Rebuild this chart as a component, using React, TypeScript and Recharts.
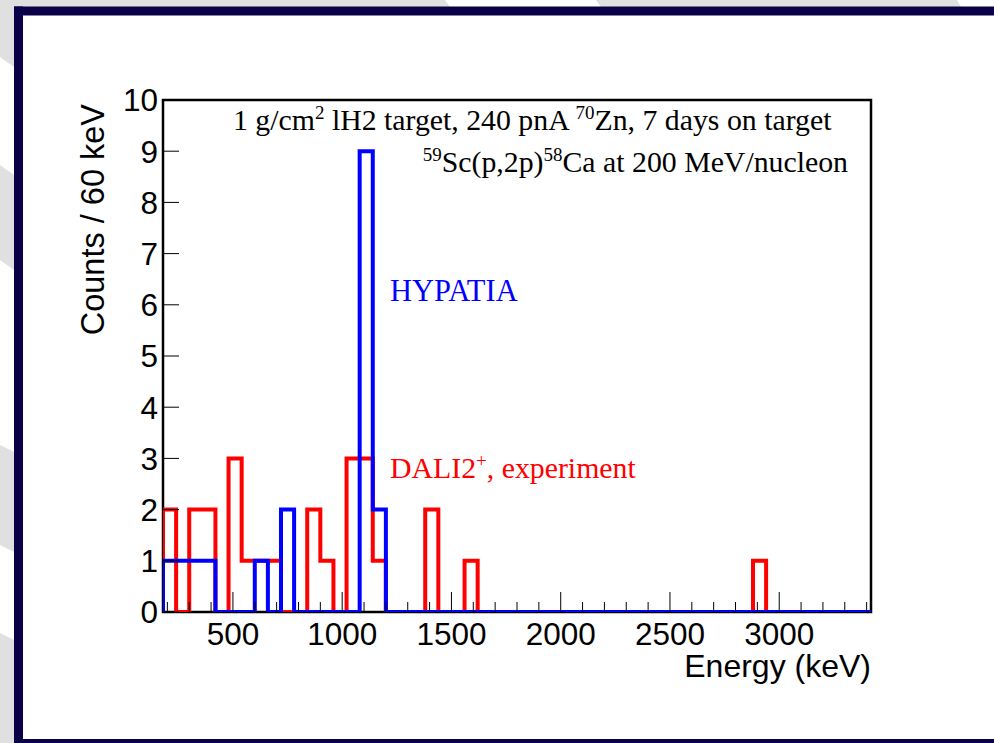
import React from "react";
import { LineChart, Line, XAxis, YAxis, ReferenceArea } from "recharts";

// 60 keV bins from 180 keV up to 3420 keV (54 bins)
const binStart = 180;
const binWidth = 60;

// counts per bin
const daliCounts = [
  2, 0, 2, 2, 0, 3, 1, 1, 1, 0, 0, 2, 1, 0, 3, 3, 1, 0, 0, 0, 2, 0, 0, 1, 0, 0, 0,
  0, 0, 0, 0, 0, 0, 0, 0, 0, 0, 0, 0, 0, 0, 0, 0, 0, 0, 1, 0, 0, 0, 0, 0, 0, 0, 0,
];
const hypatiaCounts = [
  1, 1, 1, 1, 0, 0, 0, 1, 0, 2, 0, 0, 0, 0, 0, 9, 2, 0, 0, 0, 0, 0, 0, 0, 0, 0, 0,
  0, 0, 0, 0, 0, 0, 0, 0, 0, 0, 0, 0, 0, 0, 0, 0, 0, 0, 0, 0, 0, 0, 0, 0, 0, 0, 0,
];

const xTicks = [
  200, 300, 400, 500, 600, 700, 800, 900, 1000, 1100, 1200, 1300, 1400, 1500, 1600, 1700, 1800,
  1900, 2000, 2100, 2200, 2300, 2400, 2500, 2600, 2700, 2800, 2900, 3000, 3100, 3200, 3300, 3400,
];
const yTicks = [0, 1, 2, 3, 4, 5, 6, 7, 8, 9, 10];

const nBins = daliCounts.length;
const binEnd = binStart + nBins * binWidth;

// step outline: start at zero on the left edge, one point per bin low edge, close at the right edge
const histData = [
  { e: binStart, dali: 0, hypatia: 0 },
  ...daliCounts.map((c, i) => ({ e: binStart + i * binWidth, dali: c, hypatia: hypatiaCounts[i] })),
  { e: binEnd, dali: daliCounts[nBins - 1], hypatia: hypatiaCounts[nBins - 1] },
  { e: binEnd, dali: 0, hypatia: 0 },
];

const SANS = "'Liberation Sans', Arial, Helvetica, sans-serif";
const SERIF = "'Liberation Serif', 'Times New Roman', serif";
const GREY = "#e0e0e0";
const NAVY = "#0a0048";

const XTick = (props: any) => {
  const { x, y, payload } = props;
  const major = payload.value % 500 === 0;
  return (
    <g>
      <line x1={x} x2={x} y1={y} y2={y - (major ? 20 : 10)} stroke="#000" strokeWidth={1} />
      {major && (
        <text x={x} y={y + 33} textAnchor="middle" fontFamily={SANS} fontSize={31.5} fill="#000">
          {payload.value}
        </text>
      )}
    </g>
  );
};

const YTick = (props: any) => {
  const { x, y, payload } = props;
  return (
    <g>
      <line x1={x} x2={x + 16} y1={y} y2={y} stroke="#000" strokeWidth={1} />
      <text x={x - 5} y={y} dy="0.36em" textAnchor="end" fontFamily={SANS} fontSize={31.5} fill="#000">
        {payload.value}
      </text>
    </g>
  );
};

// slide background behind the canvas: grey diagonal stripes + navy frame
const Backdrop = () => (
  <svg width={994} height={743} style={{ position: "absolute", left: 0, top: 0 }}>
    <rect x={0} y={0} width={994} height={743} fill="#fff" />
    <polygon points="0,0 445,0 450,7 0,7" fill={GREY} />
    <polygon points="596,0 957,0 961,7 601,7" fill={GREY} />
    <polygon points="0,0 14,0 14,67 0,57" fill={GREY} />
    <polygon points="0,165 14,175 14,270 0,260" fill={GREY} />
    <polygon points="0,445 14,452 14,552 0,545" fill={GREY} />
    <polygon points="0,633 14,640 14,743 0,743" fill={GREY} />
    <rect x={14} y={6.5} width={980} height={9} fill={NAVY} />
    <rect x={14} y={6.5} width={9} height={737} fill={NAVY} />
    <rect x={14} y={739} width={980} height={4} fill={NAVY} />
  </svg>
);

const Annotations = () => (
  <svg width={994} height={743} style={{ position: "absolute", left: 0, top: 0, pointerEvents: "none" }}>
    <text x={233} y={130} fontFamily={SERIF} fontSize={29.8} fill="#000">
      1 g/cm
      <tspan dy={-11} fontSize={19}>2</tspan>
      <tspan dy={11}> lH2 target, 240 pnA </tspan>
      <tspan dy={-11} fontSize={19}>70</tspan>
      <tspan dy={11}>Zn, 7 days on target</tspan>
    </text>
    <text x={848} y={172} textAnchor="end" fontFamily={SERIF} fontSize={29.8} fill="#000">
      <tspan dy={-11} fontSize={19}>59</tspan>
      <tspan dy={11}>Sc(p,2p)</tspan>
      <tspan dy={-11} fontSize={19}>58</tspan>
      <tspan dy={11}>Ca at 200 MeV/nucleon</tspan>
    </text>
    <text x={390} y={300.5} fontFamily={SERIF} fontSize={30.5} fill="#0000ff">
      HYPATIA
    </text>
    <text x={390} y={478} fontFamily={SERIF} fontSize={29.8} fill="#ff0000">
      DALI2
      <tspan dy={-11} fontSize={19}>+</tspan>
      <tspan dy={11}>, experiment</tspan>
    </text>
    <text x={871} y={677} textAnchor="end" fontFamily={SANS} fontSize={32} fill="#000">
      Energy (keV)
    </text>
    <text
      x={104}
      y={104}
      transform="rotate(-90 104 104)"
      textAnchor="end"
      fontFamily={SANS}
      fontSize={32.5}
      fill="#000"
    >
      Counts / 60 keV
    </text>
  </svg>
);

export default function App() {
  return (
    <div style={{ position: "absolute", left: 0, top: 0, width: 994, height: 743 }}>
      <Backdrop />
      <div style={{ position: "absolute", left: 0, top: 0 }}>
        <LineChart
          width={994}
          height={743}
          data={histData}
          margin={{ top: 100, right: 123, bottom: 90, left: 103 }}
        >
          <XAxis
            type="number"
            dataKey="e"
            domain={[binStart, binEnd]}
            ticks={xTicks}
            interval={0}
            allowDataOverflow
            axisLine={false}
            tickLine={false}
            tickSize={0}
            tickMargin={0}
            height={41}
            tick={XTick}
          />
          <YAxis
            type="number"
            domain={[0, 10]}
            ticks={yTicks}
            interval={0}
            allowDataOverflow
            axisLine={false}
            tickLine={false}
            tickSize={0}
            tickMargin={0}
            width={60}
            tick={YTick}
          />
          <ReferenceArea
            x1={binStart}
            x2={binEnd}
            y1={0}
            y2={10}
            fill="none"
            stroke="#000"
            strokeWidth={2.5}
            fillOpacity={0}
            ifOverflow="visible"
          />
          <Line
            type="stepAfter"
            dataKey="dali"
            stroke="#ff0000"
            strokeWidth={4}
            strokeLinejoin="miter"
            dot={false}
            activeDot={false}
            isAnimationActive={false}
          />
          <Line
            type="stepAfter"
            dataKey="hypatia"
            stroke="#0000ff"
            strokeWidth={4}
            strokeLinejoin="miter"
            dot={false}
            activeDot={false}
            isAnimationActive={false}
          />
        </LineChart>
      </div>
      <Annotations />
    </div>
  );
}
